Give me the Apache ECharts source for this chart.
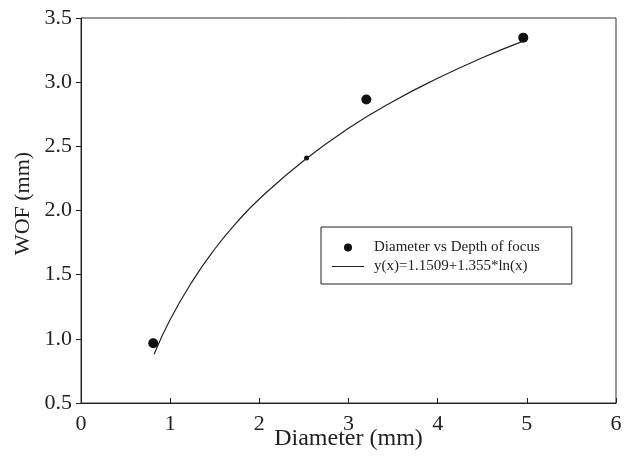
<!DOCTYPE html>
<html>
<head>
<meta charset="utf-8">
<script src="https://cdn.jsdelivr.net/npm/echarts@6/dist/echarts.min.js"></script>
<style>
  html, body { margin: 0; padding: 0; background: #fff; }
  #chart { width: 637px; height: 458px; }
</style>
</head>
<body>
<div id="chart"></div>
<script>
// measured points (diameter mm, WOF mm)
var diam = [0.81, 2.53, 3.20, 4.96];
var wof = [0.965, 2.41, 2.865, 3.347];

// fitted curve
var fitX = [0.82, 1.0, 1.25, 1.5, 1.75, 2.0, 2.5, 3.0, 3.5, 4.0, 4.5, 4.96];
var fitY = [0.88, 1.15, 1.45, 1.70, 1.91, 2.09, 2.39, 2.64, 2.85, 3.03, 3.19, 3.32];

var xTicks = [0, 1, 2, 3, 4, 5, 6];
var yTicks = [0.5, 1.0, 1.5, 2.0, 2.5, 3.0, 3.5];

var serif = "'Liberation Serif', 'Times New Roman', serif";

var myChart = echarts.init(document.getElementById('chart'));

var points = diam.map(function (d, i) { return [d, wof[i]]; });
var curve = fitX.map(function (x, i) { return [x, fitY[i]]; });

var option = {
    animation: false,
    backgroundColor: '#fff',
    grid: {
        left: 81, right: 21, top: 18, bottom: 55,
        containLabel: false,
        outerBoundsMode: 'none',
        show: true,
        borderColor: '#333',
        borderWidth: 1
    },
    legend: {
        orient: 'vertical',
        left: 321,
        top: 227,
        padding: [13, 32, 10, 11],
        itemGap: 4,
        itemWidth: 32,
        itemHeight: 8,
        borderColor: '#222',
        borderWidth: 1,
        textStyle: {
            fontFamily: serif,
            fontSize: 15,
            lineHeight: 15,
            color: '#222',
            padding: [0, 0, 0, 5]
        },
        data: [
            { name: 'Diameter vs Depth of focus', icon: 'circle' },
            { name: 'y(x)=1.1509+1.355*ln(x)', icon: 'path://M0,0 H32 V1 H0 Z' }
        ]
    },
    xAxis: {
        type: 'value',
        min: xTicks[0],
        max: xTicks[xTicks.length - 1],
        interval: 1,
        name: 'Diameter (mm)',
        nameLocation: 'middle',
        nameGap: 24,
        nameMoveOverlap: false,
        nameTextStyle: { fontFamily: serif, fontSize: 24, color: '#222' },
        axisLine: { lineStyle: { color: '#222', width: 1 } },
        axisTick: { inside: true, length: 5, lineStyle: { color: '#222' } },
        axisLabel: { fontFamily: serif, fontSize: 22, color: '#222', margin: 10 },
        splitLine: { show: false }
    },
    yAxis: {
        type: 'value',
        min: yTicks[0],
        max: yTicks[yTicks.length - 1],
        interval: 0.5,
        name: 'WOF (mm)',
        nameLocation: 'middle',
        nameGap: 47,
        nameMoveOverlap: false,
        nameTextStyle: { fontFamily: serif, fontSize: 22, color: '#222', padding: [0, 0, 0, 14] },
        axisLine: { lineStyle: { color: '#222', width: 1 } },
        axisTick: { inside: false, length: 5, lineStyle: { color: '#222' } },
        axisLabel: {
            fontFamily: serif, fontSize: 22, color: '#222', margin: 9,
            formatter: function (v) { return v.toFixed(1); }
        },
        splitLine: { show: false }
    },
    series: [{
        name: 'Diameter vs Depth of focus',
        type: 'scatter',
        data: points,
        symbol: 'circle',
        symbolSize: function (v, p) { return p.dataIndex === 1 ? 5 : 10; },
        itemStyle: { color: '#111', opacity: 1 },
        z: 3
    }, {
        name: 'y(x)=1.1509+1.355*ln(x)',
        type: 'line',
        data: curve,
        smooth: true,
        symbol: 'none',
        lineStyle: { color: '#222', width: 1.2 },
        itemStyle: { color: '#222' },
        z: 2
    }]
};

myChart.setOption(option);
</script>
</body>
</html>
